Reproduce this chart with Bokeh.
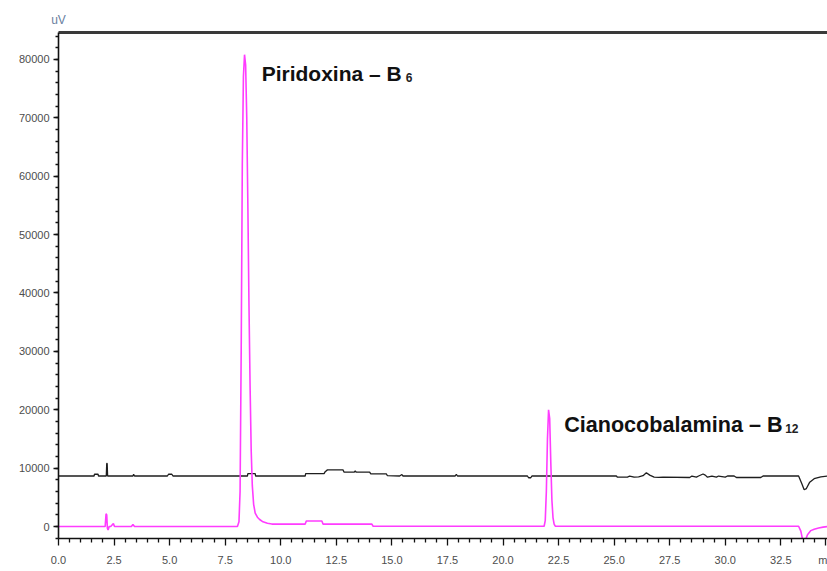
from bokeh.plotting import figure
from bokeh.models import Range1d, LinearAxis, FixedTicker, SingleIntervalTicker, NumeralTickFormatter, Label
from bokeh.embed import file_html
from bokeh.resources import INLINE

# ---- data ----
t_pink = [0, 2.10, 2.14, 2.17, 2.20, 2.23, 2.28, 2.35, 2.42, 2.47, 2.52, 2.6, 3.28, 3.35, 3.42,
          8.05, 8.12, 8.17, 8.22, 8.27, 8.32, 8.37, 8.42, 8.47, 8.52, 8.57, 8.62, 8.67, 8.72,
          8.78, 8.85, 8.95, 9.05, 9.2, 9.4, 9.6, 11.1, 11.15, 11.85, 11.9, 14.1, 14.15,
          21.85, 21.9, 21.95, 22.0, 22.05, 22.1, 22.15, 22.2, 22.25, 22.3, 22.35,
          33.3, 33.4, 33.5, 33.58, 33.7, 33.85, 34.0, 34.2, 34.4, 34.6]
uv_pink = [0, 0, 2200, 2000, -300, -600, 0, 0, 300, 500, 0, 0, 0, 350, 0,
           0, 800, 6000, 30000, 62000, 77000, 80800, 79000, 70000, 55000, 38000, 24000, 13000, 7000,
           3800, 2300, 1600, 1200, 800, 550, 420, 420, 950, 950, 420, 420, 50,
           50, 1000, 6000, 15000, 20000, 18500, 11000, 4500, 1500, 400, 50,
           50, -800, -2600, -2600, -1400, -700, -450, -250, -100, 0]

t_black = [0, 1.6, 1.62, 1.78, 1.8, 2.15, 2.17, 2.19, 2.21, 3.35, 3.38, 3.42, 4.9, 4.95, 5.1, 5.15,
           8.5, 8.52, 8.85, 8.87, 11.1, 11.12, 11.95, 12.0, 12.1, 12.8, 12.85, 13.3, 13.35, 13.4,
           14.0, 14.05, 14.75, 14.8, 15.35, 15.45, 15.5, 17.85, 17.9, 17.95, 21.1, 21.15, 21.25,
           21.3, 25.1, 25.15, 25.6, 25.7, 25.9, 26.1, 26.3, 26.45, 26.6, 26.8, 27.0, 27.2, 28.4,
           28.5, 28.7, 28.8, 29.0, 29.1, 29.2, 29.4, 29.6, 29.7, 30.0, 30.1, 30.4, 30.5, 31.6,
           31.7, 33.3, 33.45, 33.55, 33.65, 33.8, 34.0, 34.3, 34.6]
uv_black = [8650, 8650, 8950, 8950, 8650, 8650, 10800, 10800, 8650, 8650, 8950, 8650, 8650, 8950, 8950, 8650,
            8650, 9050, 9050, 8650, 8650, 9050, 9050, 9400, 9700, 9700, 9300, 9300, 9500, 9300,
            9300, 9000, 9000, 8700, 8650, 8900, 8650, 8650, 8950, 8650, 8650, 8350, 8350,
            8650, 8650, 8450, 8450, 8650, 8450, 8500, 8700, 9200, 8800, 8450, 8400, 8450, 8400,
            8650, 8450, 8650, 9000, 8800, 8450, 8650, 8450, 8650, 8450, 8650, 8650, 8400, 8400,
            8650, 8650, 7300, 6300, 6500, 7600, 8200, 8500, 8650]

x_ticks = [0.0, 2.5, 5.0, 7.5, 10.0, 12.5, 15.0, 17.5, 20.0, 22.5, 25.0, 27.5, 30.0, 32.5]
x_tick_labels = ["0.0", "2.5", "5.0", "7.5", "10.0", "12.5", "15.0", "17.5", "20.0",
                 "22.5", "25.0", "27.5", "30.0", "32.5"]
x_unit_pos = 34.5
x_unit = "m"
y_unit = "uV"
peak_names = ["Piridoxina – B", "Cianocobalamina – B"]
peak_subs = ["6", "12"]

X_MIN, X_MAX = 0.0, 34.6
Y_MIN, Y_MAX = -2050, 84600

p = figure(width=827, height=571, output_backend="svg", toolbar_location=None,
           x_range=Range1d(X_MIN, X_MAX), y_range=Range1d(Y_MIN, Y_MAX),
           min_border_left=58, min_border_right=0, min_border_top=32, min_border_bottom=33,
           background_fill_color="white", border_fill_color="white")
p.outline_line_color = None
p.grid.visible = False

p.line(t_black, uv_black, line_color="#1e1e1e", line_width=1.3)
p.line(t_pink, uv_pink, line_color="#ff3cff", line_width=1.6)

tick_font = "Liberation Sans Narrow, Liberation Sans, sans-serif"
for ax in (p.xaxis[0], p.yaxis[0]):
    ax.axis_line_color = "#111111"
    ax.axis_line_width = 1.6
    ax.major_tick_line_color = "#111111"
    ax.minor_tick_line_color = "#111111"
    ax.major_tick_line_width = 1.3
    ax.minor_tick_line_width = 1.3
    ax.major_label_text_font = tick_font
    ax.major_label_text_font_size = "11px"
    ax.major_label_text_color = "#4d4d4d"

minor_x = [i * 0.5 for i in range(70) if (i * 0.5) % 2.5 != 0 and i * 0.5 != x_unit_pos]
p.xaxis[0].ticker = FixedTicker(ticks=x_ticks + [x_unit_pos], minor_ticks=minor_x)
overrides = {t: lab for t, lab in zip(x_ticks, x_tick_labels)}
overrides[x_unit_pos] = x_unit
p.xaxis[0].major_label_overrides = overrides
p.xaxis[0].major_tick_out = 7
p.xaxis[0].major_tick_in = 0
p.xaxis[0].minor_tick_out = 4
p.xaxis[0].minor_tick_in = 0
p.xaxis[0].major_label_standoff = 8

p.yaxis[0].ticker = SingleIntervalTicker(interval=10000, num_minor_ticks=5)
p.yaxis[0].formatter = NumeralTickFormatter(format="0")
p.yaxis[0].major_tick_out = 5
p.yaxis[0].major_tick_in = 0
p.yaxis[0].minor_tick_out = 3
p.yaxis[0].minor_tick_in = 0
p.yaxis[0].major_label_standoff = 4

# top border line, carrying the "uV" unit label at x = 0
top = LinearAxis(ticker=FixedTicker(ticks=[X_MIN]),
                 major_label_overrides={X_MIN: y_unit},
                 major_tick_line_color=None, minor_tick_line_color=None,
                 major_label_text_font=tick_font, major_label_text_font_size="12px",
                 major_label_text_color="#6a80a0", major_label_standoff=0,
                 axis_line_width=3, axis_line_color="#3a3a3a")
p.add_layout(top, "above")

# peak annotations with subscripts
label_font = "Liberation Sans"
ann = [(9.14, 77600, 144, "21px"), (22.75, 17460, 221, "21.6px")]
for (x, y, dx, fs), name, sub in zip(ann, peak_names, peak_subs):
    p.add_layout(Label(x=x, y=y, text=name, text_font=label_font, text_font_size=fs,
                       text_font_style="bold", text_color="#111111", text_baseline="alphabetic"))
    p.add_layout(Label(x=x, y=y - 700, x_offset=dx, text=sub, text_font=label_font,
                       text_font_size="12px", text_font_style="bold", text_color="#222222",
                       text_baseline="alphabetic"))

open("out.html", "w").write(file_html(p, INLINE))
